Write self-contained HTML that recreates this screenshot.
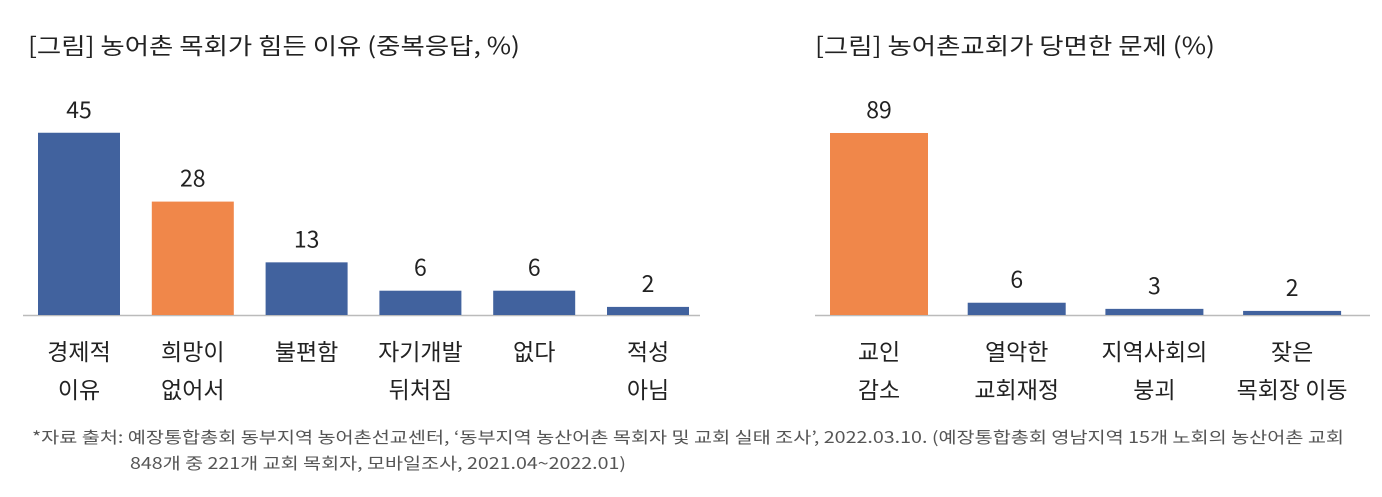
<!DOCTYPE html>
<html><head><meta charset="utf-8">
<style>
body{margin:0;background:#fff;width:1382px;height:492px;overflow:hidden;font-family:"Noto Sans CJK KR","Liberation Sans",sans-serif;}
svg text{font-family:"Noto Sans CJK KR","Liberation Sans",sans-serif;}
</style></head>
<body>
<svg id="c" width="1382" height="492" xmlns="http://www.w3.org/2000/svg">
<text x="28" y="54" font-size="23" fill="#222" textLength="492" lengthAdjust="spacingAndGlyphs">[그림] 농어촌 목회가 힘든 이유 (중복응답, %)</text>
<text x="815" y="54" font-size="23" fill="#222" textLength="400" lengthAdjust="spacingAndGlyphs">[그림] 농어촌교회가 당면한 문제 (%)</text>
<line x1="23" y1="315.5" x2="700" y2="315.5" stroke="#bbb" stroke-width="1.5"/>
<line x1="815" y1="315.5" x2="1370" y2="315.5" stroke="#bbb" stroke-width="1.5"/>
<g id="lb"></g><g id="rb"></g>
<text x="32" y="443" font-size="16" fill="#555" textLength="1312" lengthAdjust="spacingAndGlyphs">*자료 출처: 예장통합총회 동부지역 농어촌선교센터, ‘동부지역 농산어촌 목회자 및 교회 실태 조사’, 2022.03.10. (예장통합총회 영남지역 15개 노회의 농산어촌 교회</text>
<text x="130" y="469" font-size="16" fill="#555" textLength="496" lengthAdjust="spacingAndGlyphs">848개 중 221개 교회 목회자, 모바일조사, 2021.04~2022.01)</text>
</svg>
<script>
const leftCats=[["경제적","이유"],["희망이","없어서"],["불편함"],["자기개발","뒤처짐"],["없다"],["적성","아님"]];
const leftVals=[45,28,13,6,6,2];
const leftHi=[false,true,false,false,false,false];
const rightCats=[["교인","감소"],["열악한","교회재정"],["지역사회의","붕괴"],["잦은","목회장 이동"]];
const rightVals=[89,6,3,2];
const rightHi=[true,false,false,false];
const NS="http://www.w3.org/2000/svg";
function draw(gid,cats,vals,hi,x0,step,bw,scale,prefix){
  const g=document.getElementById(gid);const base=315;
  vals.forEach((v,i)=>{
    const cx=x0+i*step,h=v*scale;
    const r=document.createElementNS(NS,"rect");
    
    
    r.setAttribute("x",cx-bw/2);r.setAttribute("y",base-h);r.setAttribute("width",bw);r.setAttribute("height",h);
    r.setAttribute("fill",hi[i]?"#f0874a":"#41629e");g.appendChild(r);
    const t=document.createElementNS(NS,"text");
    
    
    t.setAttribute("x",cx);t.setAttribute("y",base-h-15);t.setAttribute("text-anchor","middle");t.setAttribute("font-size","23");t.setAttribute("fill","#222");
    t.textContent=v;g.appendChild(t);
    cats[i].forEach((s,j)=>{
      const c=document.createElementNS(NS,"text");
      
      
      c.setAttribute("x",cx);c.setAttribute("y",360+j*38);c.setAttribute("text-anchor","middle");c.setAttribute("font-size","23");c.setAttribute("fill","#222");
      c.textContent=s;g.appendChild(c);
    });
  });
}
draw("lb",leftCats,leftVals,leftHi,79,113.8,82,4.05,"left");
draw("rb",rightCats,rightVals,rightHi,879,137.7,98,2.045,"right");
</script>
</body></html>
